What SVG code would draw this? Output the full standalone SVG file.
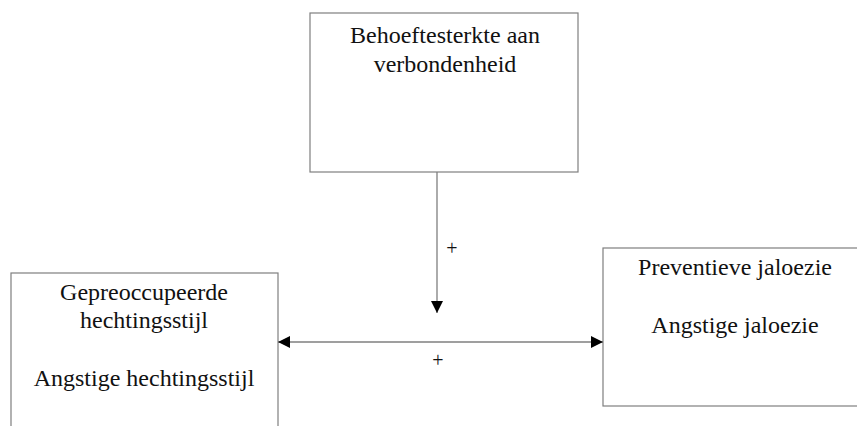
<svg xmlns="http://www.w3.org/2000/svg" width="857" height="426" viewBox="0 0 857 426">
<style>
.box{fill:#fff;stroke:#7f7f7f;stroke-width:1.2}
.con{fill:none;stroke:#7f7f7f;stroke-width:1.3}
text{font-family:Liberation Serif, Times New Roman, serif;fill:#111;text-anchor:middle}
</style>
<defs>
<marker id="ah" markerUnits="userSpaceOnUse" markerWidth="12" markerHeight="12" refX="12" refY="6" orient="auto-start-reverse">
<path d="M0,0 L12,6 L0,12 z" fill="#000"/>
</marker>
</defs>
<rect width="857" height="426" fill="#fff"/>
<g id="node-behoefte" font-size="24">
<rect class="box" x="310" y="13" width="268" height="159"/>
<text x="445" y="43">Behoeftesterkte aan</text>
<text x="445" y="72">verbondenheid</text>
</g>
<g id="node-hechting" font-size="24">
<rect class="box" x="11" y="273" width="267" height="170"/>
<text x="144" y="300">Gepreoccupeerde</text>
<text x="144" y="328">hechtingsstijl</text>
<text x="144" y="386">Angstige hechtingsstijl</text>
</g>
<g id="node-jaloezie" font-size="24">
<rect class="box" x="603" y="248" width="270" height="158"/>
<text x="735" y="275">Preventieve jaloezie</text>
<text x="735" y="333">Angstige jaloezie</text>
</g>
<g id="connectors">
<line class="con" x1="437" y1="172" x2="437" y2="313" marker-end="url(#ah)"/>
<line class="con" x1="278" y1="342" x2="603" y2="342" marker-start="url(#ah)" marker-end="url(#ah)"/>
<text x="452" y="255" font-size="20">+</text>
<text x="438" y="367" font-size="20">+</text>
</g>
</svg>
